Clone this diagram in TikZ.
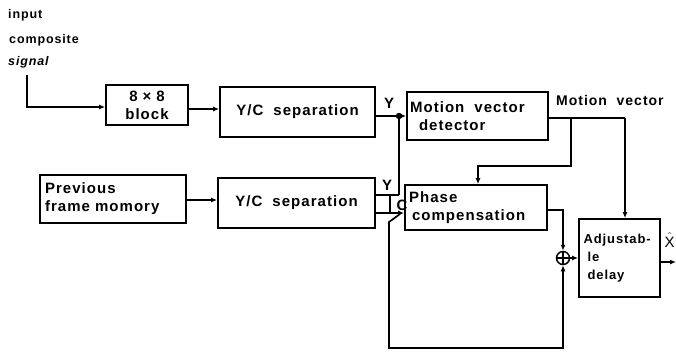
\documentclass[tikz,border=0pt]{standalone}
\usepackage{fontspec}
\setmainfont{Liberation Sans}
\newfontfamily\lab[LetterSpace=7]{Liberation Sans}
\usetikzlibrary{arrows.meta}
\begin{document}
\begin{tikzpicture}[x=1pt,y=-1pt,
  box/.style={draw,line width=1.8pt,inner sep=0pt,align=left,font=\lab\bfseries\fontsize{15}{18}\selectfont},
  wire/.style={line width=1.7pt},
  arr/.style={wire,-{Latex[length=6pt,width=5pt]}},
  lbl/.style={font=\lab\bfseries\fontsize{15}{18}\selectfont,inner sep=0pt}]
\useasboundingbox (0,0) rectangle (676,357);
% boxes
\node[box,minimum width=82pt,minimum height=40pt,text width=70pt,align=center] (b8) at (147,105) {8 × 8\\block};
\node[box,minimum width=155pt,minimum height=50pt,text width=145pt,align=center] (yc1) at (297.5,112) {Y/C\ \ separation};
\node[box,minimum width=141pt,minimum height=48pt,text width=135pt] (mvd) at (477.5,116) {Motion\ \ vector\\\hspace*{9pt}detector};
\node[box,minimum width=146pt,minimum height=48pt,text width=136pt] (prev) at (113,199) {Previous\\frame momory};
\node[box,minimum width=157pt,minimum height=50pt,text width=145pt,align=center] (yc2) at (296.5,203) {Y/C\ \ separation};
\node[box,minimum width=142pt,minimum height=45pt,text width=134pt] (ph) at (476,207.5) {Phase\\\hspace*{3pt}compensation};
\node[box,minimum width=81pt,minimum height=78pt,text width=72pt,font=\lab\bfseries\fontsize{13}{18}\selectfont] (dl) at (619.5,258) {Adjustab-\\\hspace*{4pt}le\\\hspace*{4pt}delay};
\node[draw,circle,line width=1.5pt,minimum size=13pt,inner sep=0pt] (add) at (563,258) {};
\draw[line width=1.3pt] (add.north) -- (add.south) (add.west) -- (add.east);
% input text
\node[lbl,anchor=west,font=\lab\bfseries\fontsize{12.5}{14}\selectfont] (t1) at (8,15) {input};
\node[lbl,anchor=west,font=\lab\bfseries\fontsize{12.5}{14}\selectfont] (t2) at (9,40) {composite};
\node[lbl,anchor=west,font=\lab\bfseries\itshape\fontsize{12.5}{14}\selectfont] (t3) at (8,62) {signal};
\coordinate (in) at (27,75);
\draw[arr] (in) |- (b8.west |- 0,107);
% between blocks
\draw[arr] (b8.east |- 0,109) -- (yc1.west |- 0,109);
\draw[arr] (prev.east |- 0,200) -- (yc2.west |- 0,200);
% Y junction
\coordinate (j) at (399,116);
\draw[wire] (yc1.east |- j) -- (j);
\draw[arr] (j) -- (mvd.west |- j);
\draw[line width=2.4pt] (j) -- (399,195);
\draw[wire] (yc2.east |- 0,195) -- (399,195);
\fill (j) circle (3.2pt);
\node[lbl] (ylab1) at (389,103) {Y};
\node[lbl] (ylab2) at (387,185) {Y};
\node[lbl] (clab) at (402,205) {C};
% C line and loop
\draw[arr] (yc2.east |- 0,213) -- (ph.west |- 0,213);
\draw[wire] (390,195) -- (390,213);
\coordinate (fb) at (400,214);
\draw[arr] (fb) -- (389,222) -- (389,348) -| (add.south);
% phase output
\draw[arr] (ph.east |- 0,210) -| (add.north);
\draw[arr] (add.east) -- (dl.west |- add.east);
% motion vector
\draw[wire] (mvd.east |- 0,118) -- (625,118);
\draw[arr] (625,118) -- (dl.north -| 625,0);
\draw[arr] (571,118) -- (571,166) -| (ph.north -| 478,0);
\node[lbl,anchor=west,font=\lab\bfseries\fontsize{14}{16}\selectfont] (mvl) at (556,100) {Motion\ \ vector};
% output
\coordinate (out) at (676,262);
\draw[arr] (dl.east |- out) -- (out);
\node[inner sep=0pt,anchor=west,font=\fontsize{15}{17}\selectfont] (xh) at (664.5,240) {$\hat{\mathrm{X}}$};
\end{tikzpicture}
\end{document}
